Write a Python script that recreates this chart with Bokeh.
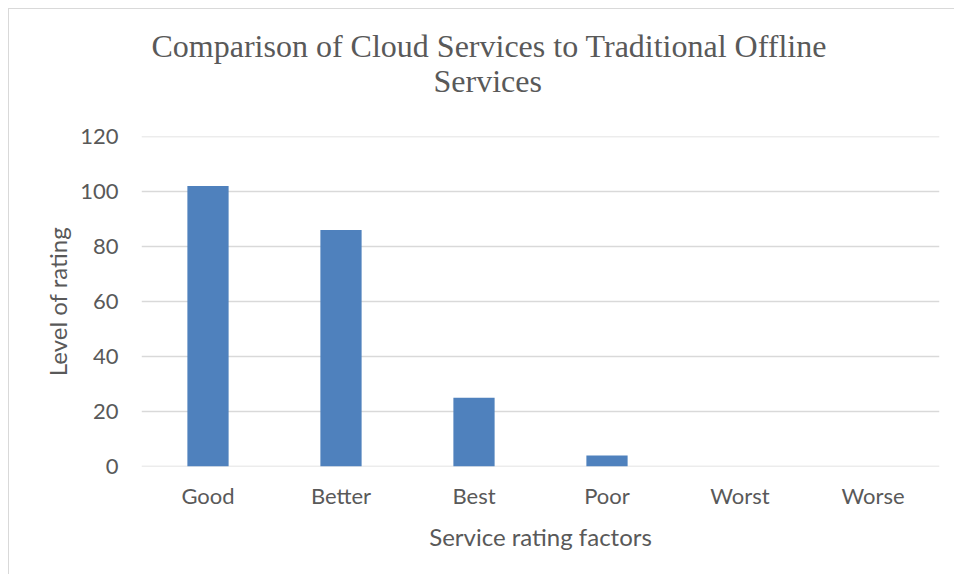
from bokeh.plotting import figure
from bokeh.models import Title, ColumnDataSource, Span
from bokeh.embed import file_html
from bokeh.resources import INLINE

categories = ["Good", "Better", "Best", "Poor", "Worst", "Worse"]
ratings = [102, 86, 25, 4, 0, 0]
y_ticks = [0, 20, 40, 60, 80, 100, 120]

title_lines = ["Comparison of Cloud Services to Traditional Offline", "Services"]

src = ColumnDataSource(dict(cat=categories, val=ratings))

p = figure(x_range=categories, y_range=(0, 120), width=946, height=566,
           output_backend="svg", toolbar_location=None,
           min_border_left=132, min_border_right=16, min_border_top=127, min_border_bottom=109)
p.styles = {"margin-left": "8px", "margin-top": "8px",
            "border-left": "1px solid #d9d9d9", "border-top": "1px solid #d9d9d9"}

p.vbar(x="cat", top="val", width=0.31, source=src, fill_color="#4F81BD",
       line_color=None)

p.outline_line_color = None
p.xgrid.grid_line_color = None
p.ygrid.grid_line_color = "#d9d9d9"
p.ygrid.grid_line_width = 1.5
p.yaxis.ticker = y_ticks
for v in (y_ticks[0], y_ticks[-1]):
    p.add_layout(Span(location=v, dimension="width", line_color="#d9d9d9", line_width=1.5,
                      level="underlay"))

for ax in (p.xaxis[0], p.yaxis[0]):
    ax.axis_line_color = None
    ax.major_tick_line_color = None
    ax.minor_tick_line_color = None
    ax.major_label_text_font = "Lato"
    ax.major_label_text_font_size = "22px"
    ax.major_label_text_color = "#595959"
    ax.axis_label_text_font = "Lato"
    ax.axis_label_text_font_size = "24px"
    ax.axis_label_text_font_style = "normal"
    ax.axis_label_text_color = "#595959"

p.xaxis.axis_label = "Service rating factors"
p.yaxis.axis_label = "Level of rating"
p.yaxis.major_label_standoff = 17
p.xaxis.major_label_standoff = 9
p.yaxis.axis_label_standoff = 5
p.xaxis.axis_label_standoff = 10

# Two-line title, last added is outermost
p.add_layout(Title(text=title_lines[1], align="left", offset=292, standoff=76,
                   text_font="Liberation Serif", text_font_size="32px",
                   text_font_style="normal", text_color="#595959"), "above")
p.add_layout(Title(text=title_lines[0], align="left", offset=10, standoff=-83,
                   text_font="Liberation Serif", text_font_size="32px",
                   text_font_style="normal", text_color="#595959"), "above")

open("out.html", "w").write(file_html(p, INLINE))
